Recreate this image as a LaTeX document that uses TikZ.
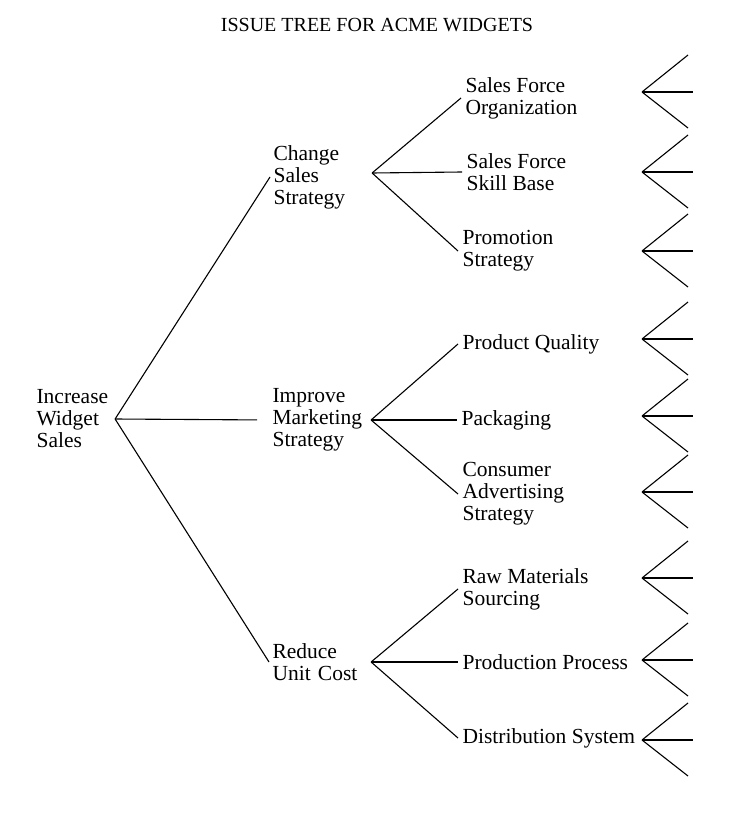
\documentclass[tikz,border=0pt]{standalone}
\usepackage{fontspec}
\setmainfont{Liberation Serif}
\begin{document}
\begin{tikzpicture}[x=1pt,y=-1pt,line width=1.1pt,
  every node/.style={font=\fontsize{21.5}{22}\selectfont},
  branch/.style={anchor=west,align=left,inner sep=3pt,text width=95pt},
  leaf/.style={anchor=west,align=left,inner sep=4pt}]

\useasboundingbox (0,0) rectangle (735,813);

\node [font=\fontsize{20}{22}\selectfont] (title) at (377,25) {ISSUE TREE FOR ACME WIDGETS};

\node [branch,text width=75pt] (root) at (33,419) {Increase\\Widget\\Sales};

\node [branch] (sales) at (270,177) {Change\\Sales\\Strategy};
\node [branch] (marketing) at (269,420) {Improve\\Marketing\\Strategy};
\node [branch] (cost) at (269,662) {Reduce\\Unit Cost};
\coordinate (salesfork) at ([yshift=4pt]sales.east);

\node [leaf] (sfo) at (461,98) {Sales Force\\Organization};
\node [leaf] (sfs) at (462,172) {Sales Force\\Skill Base};
\node [leaf] (promo) at (458,251) {Promotion\\Strategy};
\node [leaf] (quality) at (458,344) {Product Quality};
\node [leaf] (packaging) at (457,420) {Packaging};
\node [leaf] (advert) at (458,494) {Consumer\\Advertising\\Strategy};
\node [leaf] (rawmat) at (458,589) {Raw Materials\\Sourcing};
\node [leaf] (process) at (458,662) {Production Process};
\node [leaf] (distrib) at (458,738) {Distribution System};

\draw (root.east) -- (sales.west);
\draw [shorten >=12pt] (root.east) -- (marketing.west);
\draw (root.east) -- (cost.west);

\draw (salesfork) -- (sfo.west);
\draw (salesfork) -- (sfs.west);
\draw (salesfork) -- (promo.west);
\draw (marketing.east) -- (quality.west);
\draw (marketing.east) -- (packaging.west);
\draw (marketing.east) -- (advert.west);
\draw (cost.east) -- (rawmat.west);
\draw (cost.east) -- (process.west);
\draw (cost.east) -- (distrib.west);

% open forks for the next level
\foreach \y [count=\i] in {92,172,251,339,416,492,578,660,740} {
  \coordinate (fork\i) at (642,\y);
  \draw (fork\i) -- ++(46,-37);
  \draw (fork\i) -- ++(51,0);
  \draw (fork\i) -- ++(46,36);
}
\end{tikzpicture}
\end{document}
